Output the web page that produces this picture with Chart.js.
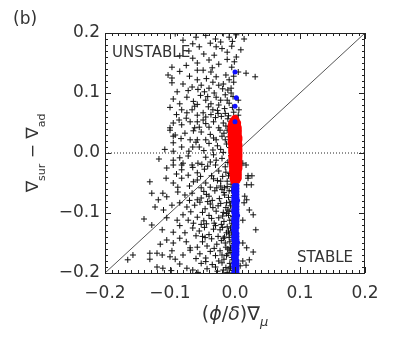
<!DOCTYPE html>
<html lang="en">
<head>
    <meta charset="UTF-8">
    <title>(b) stability</title>
    <script src="https://cdn.jsdelivr.net/npm/chart.js"></script>
    <style>
        body {
            margin: 0;
            background: #fff;
        }
        canvas {
            display: block;
        }
    </style>
</head>
<body>
    <canvas id="chart" width="396" height="340"></canvas>

    <script>
        // ticks
        const tickValues = [-0.2, -0.1, 0.0, 0.1, 0.2];
        const axisRange = [-0.2, 0.2];

        // reference lines
        const zeroLineX = [-0.2, 0.2];
        const zeroLineY = [0, 0];
        const diagX = [-0.2, 0.2];
        const diagY = [-0.2, 0.2];

        // black crosses, upper half
        const crossUpper = [
            [-0.092,0.199],[-0.08,0.188],[-0.065,0.182],[-0.018,0.199],[-0.009,0.193],[0.002,0.197],[0.014,0.19],[-0.045,0.196],[-0.03,0.19],[-0.022,0.185],[-0.06,0.193],[-0.004,0.186],[-0.038,0.183],
            [-0.055,0.177],[-0.029,0.177],[0.009,0.172],[-0.032,0.163],[0.002,0.16],[-0.012,0.168],[-0.071,0.17],[-0.048,0.165],[-0.02,0.174],[-0.005,0.178],[-0.085,0.162],
            [-0.001,0.152],[-0.04,0.155],[-0.097,0.143],[-0.058,0.15],[-0.025,0.148],[-0.012,0.156],[-0.075,0.146],[-0.005,0.143],[-0.065,0.158],[-0.035,0.142],
            [-0.103,0.13],[-0.058,0.138],[-0.049,0.138],[-0.037,0.135],[-0.029,0.127],[-0.014,0.13],[-0.009,0.122],[0.017,0.133],[0.031,0.127],[0.005,0.135],[-0.058,0.122],[-0.097,0.125],[-0.07,0.128],[-0.002,0.128],[-0.044,0.124],[-0.085,0.136],
            [-0.097,0.117],[-0.089,0.102],[-0.006,0.108],[-0.011,0.105],[-0.025,0.113],[-0.04,0.108],[-0.052,0.113],[-0.066,0.11],[-0.08,0.115],[-0.034,0.118],[-0.018,0.115],[-0.002,0.118],[-0.072,0.104],[-0.047,0.102],[-0.057,0.106],
            [-0.074,0.093],[-0.045,0.088],[-0.029,0.093],[-0.022,0.088],[-0.009,0.083],[0.005,0.088],[-0.064,0.086],[-0.085,0.082],[-0.053,0.096],[-0.037,0.082],[-0.015,0.097],[-0.003,0.094],[-0.095,0.09],[-0.058,0.081],[-0.025,0.08],
            [-0.082,0.072],[-0.074,0.067],[-0.066,0.072],[-0.058,0.063],[-0.034,0.072],[-0.049,0.067],[0.006,0.072],[-0.002,0.068],[-0.016,0.074],[-0.026,0.066],[-0.041,0.077],[-0.01,0.062],[-0.09,0.064],[-0.062,0.078],[-0.021,0.061],[-0.045,0.06],[-0.1,0.076],[0.005,0.063],
            [-0.095,0.05],[-0.082,0.047],[-0.069,0.052],[-0.062,0.042],[-0.1,0.042],[-0.055,0.043],[-0.04,0.043],[-0.025,0.042],[-0.049,0.055],[-0.033,0.052],[-0.018,0.05],[-0.011,0.057],[-0.075,0.058],[-0.086,0.055],[-0.03,0.059],[-0.008,0.044],[-0.058,0.052],[-0.045,0.049],
            [-0.1,0.038],[-0.092,0.03],[-0.077,0.033],[-0.069,0.022],[-0.058,0.022],[-0.017,0.033],[-0.029,0.022],[-0.045,0.022],[-0.095,0.028],[-0.052,0.035],[-0.038,0.031],[-0.023,0.038],[-0.01,0.027],[-0.064,0.037],[-0.083,0.024],[-0.033,0.025],[-0.012,0.038],
            [-0.095,0.017],[-0.082,0.01],[-0.065,0.01],[-0.055,0.01],[-0.108,0.006],[-0.095,0.003],[-0.018,0.001],[-0.04,0.016],[-0.027,0.012],[-0.048,0.004],[-0.071,0.003],[-0.013,0.015],[-0.034,0.005],[-0.06,0.018],[-0.022,0.006],[-0.008,0.009],
            [-0.006,0.1],[-0.012,0.088],[-0.004,0.076],[-0.015,0.066],[-0.006,0.052],[-0.014,0.045],[-0.005,0.032],[-0.015,0.022],[-0.004,0.018],[-0.02,0.028],[-0.032,0.1],[-0.042,0.094],[-0.019,0.107],[-0.027,0.071],[-0.037,0.064]
        ];

        // black crosses, lower half
        const crossLower = [
            [-0.117,-0.01],[-0.095,-0.012],[-0.08,-0.017],[-0.066,-0.02],[-0.057,-0.017],[-0.029,-0.012],[-0.045,-0.007],[0.012,-0.017],[0.017,-0.02],[-0.085,-0.008],[-0.082,-0.02],[-0.095,-0.02],[-0.038,-0.015],[-0.02,-0.009],[-0.051,-0.019],[-0.011,-0.016],[-0.072,-0.005],[-0.006,-0.004],[-0.033,-0.003],
            [-0.082,-0.028],[-0.072,-0.037],[-0.058,-0.033],[0.02,-0.038],[0.026,-0.038],[-0.105,-0.025],[-0.09,-0.035],[-0.047,-0.027],[-0.036,-0.038],[-0.025,-0.03],[-0.015,-0.023],[-0.008,-0.034],[-0.065,-0.024],[-0.042,-0.022],[-0.019,-0.039],[-0.03,-0.02],[-0.053,-0.039],
            [-0.131,-0.048],[-0.106,-0.042],[-0.095,-0.05],[-0.082,-0.042],[0.02,-0.042],[0.025,-0.053],[0.018,-0.053],[-0.07,-0.055],[-0.058,-0.045],[-0.045,-0.05],[-0.033,-0.043],[-0.022,-0.055],[-0.012,-0.047],[-0.052,-0.058],[-0.038,-0.057],[-0.027,-0.046],[-0.016,-0.058],[-0.006,-0.052],[-0.064,-0.048],[-0.088,-0.057],
            [-0.128,-0.067],[-0.111,-0.067],[-0.105,-0.073],[-0.088,-0.065],[-0.077,-0.07],[-0.066,-0.067],[-0.058,-0.078],[-0.118,-0.078],[0.015,-0.072],[0.018,-0.078],[-0.048,-0.064],[-0.04,-0.072],[-0.031,-0.063],[-0.024,-0.076],[-0.017,-0.066],[-0.01,-0.074],[-0.005,-0.063],[-0.052,-0.075],[-0.035,-0.079],[-0.02,-0.061],[-0.07,-0.079],[-0.044,-0.069],
            [-0.123,-0.09],[-0.097,-0.087],[-0.085,-0.083],[-0.074,-0.09],[-0.062,-0.087],[0.014,-0.083],[0.022,-0.095],[-0.054,-0.082],[-0.046,-0.093],[-0.038,-0.085],[-0.029,-0.097],[-0.022,-0.084],[-0.014,-0.091],[-0.008,-0.082],[-0.004,-0.097],[-0.05,-0.099],[-0.034,-0.091],[-0.018,-0.099],[-0.068,-0.098],[-0.11,-0.095],[-0.026,-0.088],[-0.042,-0.081],
            [-0.14,-0.11],[-0.105,-0.108],[-0.089,-0.112],[-0.072,-0.112],[-0.058,-0.107],[-0.128,-0.12],[0.028,-0.103],[0.012,-0.112],[-0.048,-0.113],[-0.04,-0.104],[-0.032,-0.117],[-0.025,-0.108],[-0.017,-0.114],[-0.01,-0.104],[-0.005,-0.118],[-0.052,-0.119],[-0.036,-0.109],[-0.021,-0.119],[-0.013,-0.101],[-0.064,-0.117],[-0.08,-0.103],[-0.044,-0.118],
            [-0.112,-0.128],[-0.095,-0.132],[-0.077,-0.133],[-0.065,-0.125],[0.032,-0.128],[-0.055,-0.13],[-0.047,-0.124],[-0.04,-0.136],[-0.033,-0.127],[-0.026,-0.139],[-0.019,-0.124],[-0.013,-0.133],[-0.007,-0.125],[-0.004,-0.138],[-0.085,-0.121],[-0.05,-0.139],[-0.03,-0.121],[-0.016,-0.14],[-0.06,-0.138],[-0.01,-0.13],
            [-0.105,-0.145],[-0.095,-0.15],[-0.069,-0.158],[-0.058,-0.157],[-0.115,-0.152],[0.012,-0.15],[0.018,-0.158],[-0.085,-0.142],[-0.05,-0.148],[-0.043,-0.155],[-0.036,-0.143],[-0.028,-0.152],[-0.021,-0.146],[-0.014,-0.157],[-0.008,-0.148],[-0.004,-0.155],[-0.075,-0.148],[-0.046,-0.141],[-0.032,-0.159],[-0.018,-0.142],[-0.011,-0.16],
            [-0.131,-0.167],[-0.112,-0.17],[-0.1,-0.173],[-0.157,-0.17],[-0.165,-0.178],[-0.131,-0.177],[-0.12,-0.167],[-0.097,-0.163],[-0.092,-0.177],[0.028,-0.165],[0.022,-0.178],[0.012,-0.18],[-0.069,-0.162],[-0.054,-0.168],[-0.045,-0.175],[-0.038,-0.164],[-0.03,-0.171],[-0.023,-0.163],[-0.017,-0.177],[-0.011,-0.168],[-0.005,-0.174],[-0.06,-0.176],[-0.08,-0.17],[-0.02,-0.17],[-0.008,-0.162],
            [-0.12,-0.19],[-0.111,-0.192],[-0.074,-0.192],[-0.065,-0.195],[0.008,-0.188],[0.017,-0.187],[-0.052,-0.184],[-0.043,-0.193],[-0.035,-0.186],[-0.027,-0.197],[-0.02,-0.183],[-0.014,-0.191],[-0.008,-0.184],[-0.004,-0.196],[-0.085,-0.185],[-0.057,-0.199],[-0.03,-0.19],[-0.012,-0.199],[-0.098,-0.196],[-0.045,-0.181],
            [-0.003,-0.057],[-0.009,-0.063],[-0.002,-0.071],[-0.007,-0.088],[-0.002,-0.09],[-0.011,-0.095],[-0.003,-0.106],[-0.008,-0.112],[-0.002,-0.128],[-0.009,-0.135],[-0.003,-0.145],[-0.006,-0.166],[-0.002,-0.182],[-0.007,-0.19],[-0.003,-0.2],[-0.016,-0.07],[-0.019,-0.105],[-0.023,-0.128],[-0.015,-0.15],[-0.025,-0.18],
            [-0.012,-0.056],[-0.004,-0.081],[-0.013,-0.083],[-0.009,-0.097],[-0.004,-0.112],[-0.012,-0.123],[-0.005,-0.132],[-0.009,-0.141],[-0.002,-0.151],[-0.007,-0.158],[-0.013,-0.171],[-0.004,-0.178],[-0.009,-0.193],[-0.018,-0.195],[-0.002,-0.042],[-0.01,-0.038],[-0.004,-0.026],[-0.014,-0.032],[-0.022,-0.047],[-0.028,-0.058]
        ];

        // red circles (dense band near x = 0)
        const redPts = [
            [0,0.058],[-0.003,0.054],[0.002,0.054],
            [-0.005,0.05],[0,0.05],[0.004,0.05],
            [-0.006,0.046],[-0.001,0.046],[0.004,0.046],
            [-0.006,0.042],[-0.001,0.042],[0.005,0.042],
            [-0.006,0.038],[0,0.038],[0.005,0.038],
            [-0.005,0.034],[0,0.034],[0.005,0.034],
            [-0.006,0.03],[-0.001,0.03],[0.005,0.03],
            [-0.006,0.026],[0,0.026],[0.006,0.026],
            [-0.005,0.022],[0,0.022],[0.006,0.022],
            [-0.006,0.018],[0,0.018],[0.005,0.018],
            [-0.005,0.014],[0.001,0.014],[0.006,0.014],
            [-0.005,0.01],[0,0.01],[0.006,0.01],
            [-0.005,0.006],[0.001,0.006],[0.006,0.006],
            [-0.005,0.002],[0,0.002],[0.006,0.002],
            [-0.004,-0.002],[0.001,-0.002],[0.006,-0.002],
            [-0.005,-0.006],[0.001,-0.006],[0.006,-0.006],
            [-0.004,-0.01],[0.001,-0.01],[0.006,-0.01],
            [-0.005,-0.014],[0,-0.014],[0.006,-0.014],
            [-0.004,-0.018],[0.001,-0.018],[0.006,-0.018],
            [-0.004,-0.022],[0.001,-0.022],[0.006,-0.022],
            [-0.003,-0.026],[0.001,-0.026],[0.006,-0.026],
            [-0.004,-0.03],[0.001,-0.03],[0.005,-0.03],
            [-0.003,-0.034],[0.001,-0.034],[0.005,-0.034],
            [-0.003,-0.038],[0.001,-0.038],[0.005,-0.038],
            [-0.003,-0.042],[0.001,-0.042],[0.005,-0.042],
            [-0.002,-0.046],[0.003,-0.046],[0,-0.05]
        ];

        // blue circles: band below the red one, plus a few above
        const bluePts = [
            [0,0.135],[0.002,0.092],[0,0.078],[0,0.052],
            [-0.001,-0.054],[0.003,-0.054],[-0.002,-0.059],[0.003,-0.059],
            [-0.002,-0.064],[0.003,-0.064],[-0.001,-0.069],[0.003,-0.069],
            [-0.002,-0.074],[0.003,-0.074],[-0.002,-0.079],[0.004,-0.079],
            [-0.002,-0.084],[0.003,-0.084],[-0.001,-0.089],[0.003,-0.089],
            [-0.002,-0.094],[0.003,-0.094],[-0.002,-0.099],[0.003,-0.099],
            [-0.001,-0.104],[0.004,-0.104],[-0.002,-0.109],[0.003,-0.109],
            [-0.002,-0.114],[0.003,-0.114],[-0.001,-0.119],[0.003,-0.119],
            [-0.002,-0.124],[0.003,-0.124],[-0.002,-0.129],[0.002,-0.129],
            [-0.001,-0.134],[0.003,-0.134],[-0.002,-0.139],[0.003,-0.139],
            [-0.002,-0.144],[0.003,-0.144],[-0.001,-0.149],[0.004,-0.149],
            [-0.002,-0.154],[0.003,-0.154],[-0.002,-0.159],[0.003,-0.159],
            [-0.001,-0.164],[0.003,-0.164],[-0.002,-0.169],[0.003,-0.169],
            [-0.002,-0.174],[0.002,-0.174],[-0.001,-0.179],[0.003,-0.179],
            [-0.002,-0.184],[0.003,-0.184],[-0.002,-0.189],[0.003,-0.189],
            [-0.001,-0.194],[0.003,-0.194],[-0.002,-0.199],[0.003,-0.199],
            [-0.002,-0.204],[0.003,-0.204],[-0.001,-0.209],[0.003,-0.209]
        ];

        const toXY = arr => arr.map(p => ({ x: p[0], y: p[1] }));
        const lineXY = (xs, ys) => xs.map((v, i) => ({ x: v, y: ys[i] }));
        const fmt = v => {
            const r = Math.round(v * 10) / 10;
            return (r < 0 ? '\u2212' : '') + Math.abs(r).toFixed(1);
        };

        const TXT = '#333';
        const FONT = 'DejaVu Sans, sans-serif';

        // frame, inward ticks on four sides, and the text labels
        const decor = {
            id: 'decor',
            afterDatasetsDraw(chart) {
                const { ctx, chartArea: a, scales } = chart;
                const x = scales.x, y = scales.y;
                ctx.save();
                ctx.strokeStyle = '#222';
                ctx.lineWidth = 1;
                ctx.strokeRect(a.left + 0.5, a.top + 0.5, a.right - a.left - 1, a.bottom - a.top);

                ctx.beginPath();
                for (let i = -20; i <= 20; i++) {
                    const len = i % 10 === 0 ? 6 : 3;
                    const px = Math.round(x.getPixelForValue(i / 100)) + 0.5;
                    ctx.moveTo(px, a.bottom); ctx.lineTo(px, a.bottom - len);
                    ctx.moveTo(px, a.top); ctx.lineTo(px, a.top + len);
                    const py = Math.round(y.getPixelForValue(i / 100)) + 0.5;
                    ctx.moveTo(a.left, py); ctx.lineTo(a.left + len, py);
                    ctx.moveTo(a.right, py); ctx.lineTo(a.right - len, py);
                }
                ctx.stroke();

                ctx.fillStyle = TXT;
                ctx.textBaseline = 'alphabetic';

                // panel letter
                ctx.font = '17px ' + FONT;
                ctx.textAlign = 'left';
                ctx.fillText('(b)', 13, 24);

                // region labels
                ctx.font = '15px ' + FONT;
                ctx.fillText('UNSTABLE', a.left + 7, 57);
                ctx.textAlign = 'right';
                ctx.fillText('STABLE', a.right - 12, 262);

                // x title: (ϕ/δ)∇μ
                const xParts = [
                    ['(', '19px ' + FONT, 0],
                    ['\u03d5', 'italic 19px ' + FONT, 0],
                    ['/', '19px ' + FONT, 0],
                    ['\u03b4', 'italic 19px ' + FONT, 0],
                    [')', '19px ' + FONT, 0],
                    ['\u2207', '19px ' + FONT, 0],
                    ['\u03bc', 'italic 13px ' + FONT, 6]
                ];
                drawParts(ctx, xParts, (a.left + a.right) / 2, 320);

                // y title: ∇sur − ∇ad, rotated
                ctx.save();
                ctx.translate(38, (a.top + a.bottom) / 2);
                ctx.rotate(-Math.PI / 2);
                const yParts = [
                    ['\u2207', '17px ' + FONT, 0],
                    ['sur', '11px ' + FONT, 7],
                    [' \u2212 ', '17px ' + FONT, 0],
                    ['\u2207', '17px ' + FONT, 0],
                    ['ad', '11px ' + FONT, 7]
                ];
                drawParts(ctx, yParts, 0, 0);
                ctx.restore();

                ctx.restore();
            }
        };

        function drawParts(ctx, parts, cx, base) {
            let total = 0;
            parts.forEach(p => { ctx.font = p[1]; total += ctx.measureText(p[0]).width; });
            let cur = cx - total / 2;
            ctx.textAlign = 'left';
            parts.forEach(p => {
                ctx.font = p[1];
                ctx.fillText(p[0], cur, base + p[2]);
                cur += ctx.measureText(p[0]).width;
            });
        }

        const ctx = document.getElementById('chart').getContext('2d');
        const chart = new Chart(ctx, {
            type: 'scatter',
            data: {
                datasets: [
                    {
                        label: 'blue',
                        data: toXY(bluePts),
                        pointStyle: 'circle',
                        pointRadius: 2.5,
                        backgroundColor: '#1010ff',
                        borderWidth: 0,
                        order: 0
                    },
                    {
                        label: 'red',
                        data: toXY(redPts),
                        pointStyle: 'circle',
                        pointRadius: 3.5,
                        backgroundColor: '#ff0000',
                        borderWidth: 0,
                        order: 1
                    },
                    {
                        label: 'cross',
                        data: toXY(crossUpper.concat(crossLower)),
                        pointStyle: 'cross',
                        pointRadius: 3,
                        borderColor: '#111',
                        borderWidth: 1,
                        order: 2
                    },
                    {
                        type: 'line',
                        label: 'zero',
                        data: lineXY(zeroLineX, zeroLineY),
                        borderColor: '#222',
                        borderWidth: 1,
                        borderDash: [1, 2],
                        pointRadius: 0,
                        order: 3
                    },
                    {
                        type: 'line',
                        label: 'diag',
                        data: lineXY(diagX, diagY),
                        borderColor: '#555',
                        borderWidth: 1,
                        pointRadius: 0,
                        order: 3
                    }
                ]
            },
            options: {
                responsive: false,
                animation: false,
                layout: { padding: { left: 0, right: 31, top: 33, bottom: 0 } },
                plugins: {
                    legend: { display: false },
                    tooltip: { enabled: false }
                },
                scales: {
                    x: {
                        type: 'linear',
                        min: axisRange[0],
                        max: axisRange[1],
                        afterBuildTicks: s => { s.ticks = tickValues.map(v => ({ value: v })); },
                        afterFit: s => { s.height = 67; },
                        ticks: {
                            callback: fmt,
                            font: { family: FONT, size: 17 },
                            color: TXT,
                            padding: 10,
                            maxRotation: 0
                        },
                        grid: { display: false, drawTicks: false },
                        border: { display: false }
                    },
                    y: {
                        type: 'linear',
                        min: axisRange[0],
                        max: axisRange[1],
                        afterBuildTicks: s => { s.ticks = tickValues.map(v => ({ value: v })); },
                        afterFit: s => { s.width = 105; },
                        ticks: {
                            callback: fmt,
                            font: { family: FONT, size: 17 },
                            color: TXT,
                            padding: 5
                        },
                        grid: { display: false, drawTicks: false },
                        border: { display: false }
                    }
                }
            },
            plugins: [decor]
        });
    </script>
</body>
</html>
